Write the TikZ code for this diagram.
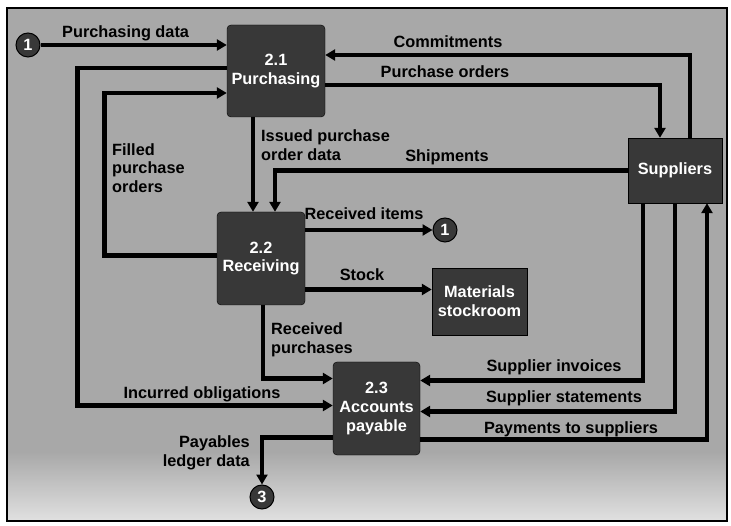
\documentclass[tikz,border=0pt]{standalone}
\usepackage{fontspec}
\setmainfont{Liberation Sans}
\usetikzlibrary{arrows.meta}
\begin{document}
\begin{tikzpicture}[x=1pt,y=-1pt]
    \tikzstyle{every node}+=[inner sep=0pt, font=\fontsize{16.3}{18.8}\selectfont\bfseries]
    \tikzstyle{procbox}=[draw=black, fill=black!78, rounded corners=4pt, text=white, align=center]
    \tikzstyle{extbox}=[draw=black, fill=black!78, text=white, align=center]
    \tikzstyle{conn}=[circle, draw=black, line width=1pt, fill=black!78, text=white, minimum size=24pt]
    \tikzstyle{flow}=[line width=4.8pt, -{Triangle[length=10pt,width=11pt]}]
    \tikzstyle{datalbl}=[align=left]
    \useasboundingbox (0,0) rectangle (731,526);
    \fill [white] (0,0) rectangle (731,526);
    \fill [black!34] (7,8) rectangle (727,452);
    \shade [top color=black!34, bottom color=black!12] (7,452) rectangle (727,521);
    \draw [line width=1.5pt] (7,8) rectangle (727,521);
    % processes
    \node [procbox, minimum width=98pt, minimum height=92pt] (p21) at (276,71) {2.1\\Purchasing};
    \node [procbox, minimum width=88pt, minimum height=93pt] (p22) at (261,258.5) {2.2\\Receiving};
    \node [procbox, minimum width=87pt, minimum height=93pt] (p23) at (376.5,408.5) {2.3\\Accounts\\payable};
    % external entities
    \node [extbox, minimum width=94pt, minimum height=65pt] (sup) at (675,170.5) {Suppliers};
    \node [extbox, minimum width=95pt, minimum height=67pt] (stock) at (479.5,301.5) {Materials\\stockroom};
    % off-page connectors
    \node [conn] (c1a) at (28,45) {1};
    \node [conn] (c1b) at (445,230) {1};
    \node [conn] (c3) at (262,497) {3};
    % flows
    \draw [flow] (c1a.east) -- (c1a.east -| p21.west);
    \draw [flow] ([xshift=15pt]sup.north) |- ([yshift=16pt]p21.east);
    \draw [flow] ([yshift=-14pt]p21.east) -| ([xshift=-15pt]sup.north);
    \draw [flow] ([yshift=3pt]p21.west) -- ++(-149pt,0) |- ([yshift=3pt]p23.west);
    \draw [flow] ([yshift=3pt]p22.west) -- ++(-112pt,0) |- ([yshift=-22pt]p21.west);
    \draw [flow] ([xshift=-23pt]p21.south) -- ([xshift=-23pt]p21.south |- p22.north);
    \draw [flow] (sup.west) -| ([xshift=14pt]p22.north);
    \draw [flow] ([yshift=28.5pt]p22.east) -- (c1b.west);
    \draw [flow] ([yshift=-31pt]p22.east) -- ([yshift=-31pt]p22.east -| stock.west);
    \draw [flow] ([xshift=2pt]p22.south) |- ([yshift=30pt]p23.west);
    \draw [flow] ([yshift=-29pt]p23.west) -| (c3.north);
    \draw [flow] ([xshift=-32pt]sup.south) |- ([yshift=28pt]p23.east);
    \draw [flow] (sup.south) |- ([yshift=-3pt]p23.east);
    \draw [flow] ([yshift=-31pt]p23.east) -| ([xshift=32pt]sup.south);
    % flow labels
    \node [datalbl, anchor=west] (lpd) at (62,33) {Purchasing data};
    \node (lcom) at (448,42) {Commitments};
    \node (lpo) at (445,72) {Purchase orders};
    \node [datalbl, anchor=west] (lipo) at (261,145) {Issued purchase\\order data};
    \node [datalbl, anchor=west] (lfpo) at (112,168) {Filled\\purchase\\orders};
    \node (lship) at (447,157) {Shipments};
    \node (lri) at (364,214) {Received items};
    \node (lstk) at (362,275) {Stock};
    \node [datalbl, anchor=west] (lrp) at (271,340) {Received\\purchases};
    \node (lio) at (202,394) {Incurred obligations};
    \node [align=right, anchor=east] (lpld) at (250,453) {Payables\\ledger data};
    \node (lsi) at (554,367) {Supplier invoices};
    \node (lss) at (564,398) {Supplier statements};
    \node (lpay) at (571,429) {Payments to suppliers};
\end{tikzpicture}
\end{document}
